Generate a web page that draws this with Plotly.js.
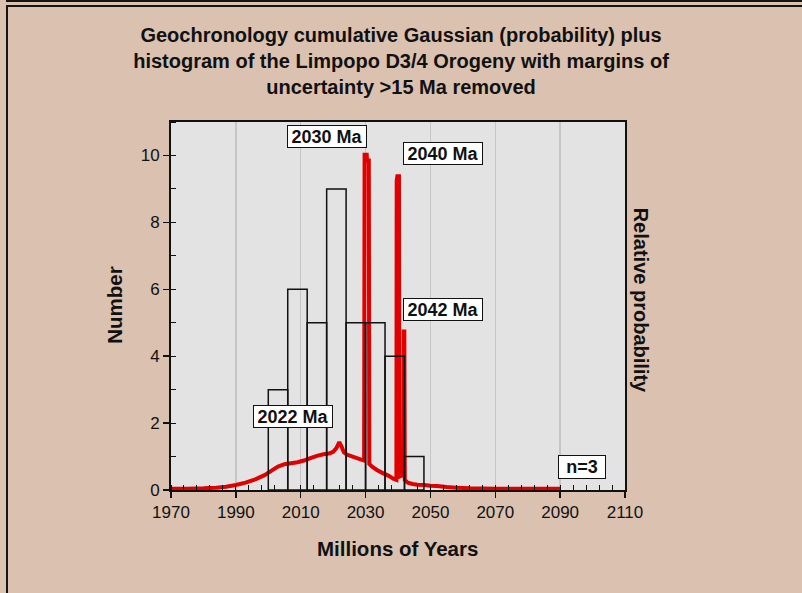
<!DOCTYPE html>
<html>
<head>
<meta charset="utf-8">
<script src="https://cdn.plot.ly/plotly-3.0.1.min.js"></script>
<style>
  html, body { margin: 0; padding: 0; background: #dbc2b0; }
  #wrap { position: relative; width: 802px; height: 593px; overflow: hidden; }
  #chart { position: absolute; left: 0; top: 0; width: 802px; height: 593px; }
  .frame { position: absolute; background: #141414; pointer-events: none; }
</style>
</head>
<body>
<div id="wrap">
  <div id="chart"></div>
  <div class="frame" style="left:6px; top:0px; width:796px; height:2px;"></div>
  <div class="frame" style="left:6px; top:5px; width:796px; height:2px;"></div>
  <div class="frame" style="left:6px; top:5px; width:2px; height:588px;"></div>
</div>
<script>
// Histogram bins (Ma) and counts
const binStarts = [2000, 2006, 2012, 2018, 2024, 2030, 2036, 2042];
const binWidth = 6;
const counts = [3, 6, 5, 9, 5, 5, 4, 1];

// Cumulative Gaussian (relative probability) curve
const probYears = [1970,1975,1980,1984,1987,1990,1993,1996,1999,2001,2003,2005,2007,2009,2011,2013,2015,2017,2019,2020,2021,2021.9,2022.6,2023.3,2024.2,2026,2028,2029.55,2029.7,2030.35,2030.45,2031.0,2031.15,2032,2033.5,2035,2037,2038.7,2039.5,2039.6,2039.8,2040.3,2040.4,2041.6,2041.75,2041.95,2042.1,2043,2044.5,2046,2048,2050,2052,2055,2058,2062,2070,2080,2090];
const probValues = [0.04,0.04,0.05,0.07,0.1,0.15,0.22,0.32,0.45,0.58,0.7,0.77,0.8,0.83,0.88,0.95,1.02,1.07,1.1,1.14,1.25,1.43,1.3,1.13,1.06,1.0,0.93,0.88,10.02,10.02,9.85,9.85,0.78,0.7,0.6,0.52,0.43,0.33,0.3,9.25,9.38,9.38,0.4,0.45,4.74,4.74,0.3,0.22,0.18,0.16,0.15,0.13,0.12,0.09,0.07,0.05,0.04,0.04,0.04];

// Peak labels
const peakLabels = ['2030 Ma', '2040 Ma', '2042 Ma', '2022 Ma'];
const peakLabelX = [2018.0, 2054.0, 2054.0, 2007.5];
const peakLabelY = [10.58, 10.07, 5.39, 2.20];
const nLabel = 'n=3';

const xTickVals = [1970, 1990, 2010, 2030, 2050, 2070, 2090, 2110];
const yTickVals = [0, 2, 4, 6, 8, 10];

const FONT = '"Liberation Sans", Arial, sans-serif';
const INK = '#111111';

const curve = {
  type: 'scatter', mode: 'lines',
  x: probYears, y: probValues,
  xaxis: 'x', yaxis: 'y',
  line: { color: '#e00000', width: 4, simplify: false },
  hoverinfo: 'skip', showlegend: false
};

const bars = {
  type: 'bar',
  x: binStarts, y: counts,
  width: binStarts.map(() => binWidth),
  offset: 0,
  xaxis: 'x', yaxis: 'y2',
  marker: { color: 'rgba(0,0,0,0)', line: { color: '#111111', width: 1.5 } },
  hoverinfo: 'skip', showlegend: false
};

const annotations = peakLabels.map((t, i) => ({
  text: t, x: peakLabelX[i], y: peakLabelY[i], xref: 'x', yref: 'y2',
  showarrow: false, xanchor: 'center', yanchor: 'middle',
  font: { family: FONT, size: 18, color: INK, weight: 'bold' },
  bgcolor: '#ffffff', bordercolor: '#111111', borderwidth: 1, borderpad: 1,
  width: 76, height: 19
}));
annotations.push({
  text: nLabel, x: 2096.6, y: 0.70, xref: 'x', yref: 'y2',
  showarrow: false, xanchor: 'center', yanchor: 'middle',
  font: { family: FONT, size: 18, color: INK, weight: 'bold' },
  bgcolor: '#ffffff', bordercolor: '#111111', borderwidth: 1, borderpad: 1,
  width: 44, height: 20
});
annotations.push({
  text: 'Millions of Years', xref: 'paper', yref: 'paper', x: 0.498, y: -0.160,
  showarrow: false, xanchor: 'center', yanchor: 'middle',
  font: { family: FONT, size: 20.5, color: INK, weight: 'bold' }
});
annotations.push({
  text: 'Number', xref: 'paper', yref: 'paper', x: -0.1235, y: 0.503,
  showarrow: false, xanchor: 'center', yanchor: 'middle', textangle: -90,
  font: { family: FONT, size: 20.5, color: INK, weight: 'bold' }
});
annotations.push({
  text: 'Relative probability', xref: 'paper', yref: 'paper', x: 1.034, y: 0.516,
  showarrow: false, xanchor: 'center', yanchor: 'middle', textangle: 90,
  font: { family: FONT, size: 20, color: INK, weight: 'bold' }
});

const layout = {
  width: 802, height: 593,
  paper_bgcolor: '#dbc2b0',
  plot_bgcolor: '#e3e3e3',
  margin: { l: 171, r: 177, t: 122, b: 103, pad: 0 },
  showlegend: false,
  title: {
    text: 'Geochronology cumulative Gaussian (probability) plus<br>histogram of the Limpopo D3/4 Orogeny with margins of<br>uncertainty >15 Ma removed',
    font: { family: FONT, size: 20, color: INK, weight: 'bold' },
    x: 0.5, xref: 'container', xanchor: 'center',
    y: 0.930, yref: 'container', yanchor: 'top'
  },
  xaxis: {
    range: [1970, 2110], autorange: false,
    tickmode: 'array', tickvals: xTickVals,
    ticks: 'outside', ticklen: 6, tickwidth: 1.5, tickcolor: '#111111',
    showline: true, linewidth: 2, linecolor: '#111111', mirror: true,
    showgrid: true, gridcolor: '#c6c6c6', gridwidth: 1.5,
    zeroline: false,
    tickfont: { family: FONT, size: 17, color: INK },
    minor: { tick0: 1970, dtick: 4, ticks: 'inside', ticklen: 5, tickwidth: 1, tickcolor: '#111111', showgrid: false },
    fixedrange: true
  },
  yaxis: {
    range: [0, 11], autorange: false,
    side: 'right', showticklabels: false, ticks: '',
    showline: false, showgrid: false, zeroline: false,
    fixedrange: true
  },
  yaxis2: {
    overlaying: 'y', side: 'left',
    range: [0, 11], autorange: false,
    tickmode: 'array', tickvals: yTickVals,
    ticks: 'outside', ticklen: 6, tickwidth: 1.5, tickcolor: '#111111',
    showline: true, linewidth: 2, linecolor: '#111111', mirror: true,
    showgrid: false, zeroline: false,
    tickfont: { family: FONT, size: 17, color: INK },
    minor: { tick0: 0, dtick: 1, ticks: 'inside', ticklen: 5, tickwidth: 1, tickcolor: '#111111', showgrid: false },
    fixedrange: true
  },
  annotations: annotations
};

Plotly.newPlot('chart', [curve, bars], layout, { displayModeBar: false, staticPlot: true });
</script>
</body>
</html>
